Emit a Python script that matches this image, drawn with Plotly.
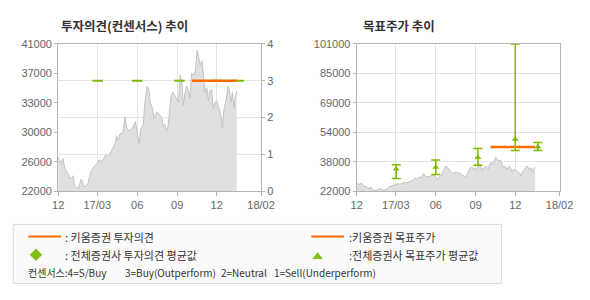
import plotly.graph_objects as go

# ---------------- data ----------------
price_dates = [
    "2016-12-01", "2016-12-06", "2016-12-12", "2016-12-17", "2016-12-25", "2016-12-28",
    "2017-01-04", "2017-01-08", "2017-01-16", "2017-01-23", "2017-01-31", "2017-02-07",
    "2017-02-14", "2017-02-22", "2017-03-01", "2017-03-05", "2017-03-12", "2017-03-20",
    "2017-03-27", "2017-04-03", "2017-04-11", "2017-04-14", "2017-04-18", "2017-04-22",
    "2017-04-29", "2017-05-04", "2017-05-08", "2017-05-13", "2017-05-21", "2017-05-28",
    "2017-06-02", "2017-06-05", "2017-06-09", "2017-06-15", "2017-06-18", "2017-06-24",
    "2017-06-28", "2017-07-01", "2017-07-05", "2017-07-10", "2017-07-16", "2017-07-23",
    "2017-07-27", "2017-07-31", "2017-08-04", "2017-08-07", "2017-08-11", "2017-08-15",
    "2017-08-18", "2017-08-22", "2017-08-28", "2017-09-01", "2017-09-04", "2017-09-08",
    "2017-09-12", "2017-09-15", "2017-09-19", "2017-09-23", "2017-09-27", "2017-09-30",
    "2017-10-04", "2017-10-09", "2017-10-13", "2017-10-17", "2017-10-21", "2017-10-24",
    "2017-10-28", "2017-11-01", "2017-11-04", "2017-11-08", "2017-11-12", "2017-11-15",
    "2017-11-19", "2017-11-23", "2017-11-27", "2017-12-01", "2017-12-04", "2017-12-08",
    "2017-12-12", "2017-12-14", "2017-12-18", "2017-12-23", "2017-12-27", "2017-12-30",
    "2018-01-03", "2018-01-06", "2018-01-10", "2018-01-12", "2018-01-16",
]
price_values = [
    26460, 25630, 26250, 24800, 24190, 23570,
    24000, 22740, 22330, 23570, 22540, 22950,
    24400, 25220, 25630, 26050, 25840, 26670,
    26460, 27290, 28110, 29150, 28530, 29350,
    29560, 31620, 30180, 29770, 30180, 31000,
    29350, 28110, 29970, 30590, 33070, 35550,
    34930, 33480, 32860, 31420, 32240, 31830,
    31620, 30390, 30590, 29770, 30390, 32660,
    34310, 34800, 34100, 33690, 33480, 36990,
    35960, 33070, 34720, 35550, 34930, 33900,
    37200, 36990, 37610, 40200, 39060, 38230,
    38850, 36370, 34720, 35340, 33690, 34930,
    35130, 32660, 33480, 33690, 33070, 32240,
    31420, 30180, 32660, 33900, 35550, 35130,
    33480, 34720, 32660, 33900, 34930,
]

# Kiwoom opinion (right axis, 3 = Buy)
kiwoom_op_dates = ["2017-10-05", "2018-01-16"]
kiwoom_op_values = [3, 3]

# Consensus opinion average
cons_op_dates = ["2017-03-02", "2017-06-01", "2017-09-06", "2017-12-01", "2018-01-21"]
cons_op_values = [3, 3, 3, 3, 3]

# Kiwoom target price
kiwoom_tp_dates = ["2017-10-05", "2018-01-16"]
kiwoom_tp_values = [45800, 45800]

# Consensus target price: average, high, low
cons_tp_dates = ["2017-03-02", "2017-06-01", "2017-09-06", "2017-12-01", "2018-01-22"]
cons_tp_avg = [33900, 34900, 40100, 49900, 45800]
cons_tp_high = [36200, 38800, 45000, 101000, 48100]
cons_tp_low = [28900, 31000, 36000, 43900, 43900]

x_tickvals = ["2016-12-01", "2017-03-01", "2017-06-01", "2017-09-01", "2017-12-01", "2018-03-13"]
x_ticktext = ["12", "17/03", "06", "09", "12", "18/02"]

left_price_ticks = [22000, 25800, 29600, 33400, 37200, 41000]
left_price_labels = ["22000", "26000", "30000", "33000", "37000", "41000"]
opinion_ticks = [0, 1, 2, 3, 4]

tp_ticks = [22000, 37800, 53600, 69400, 85200, 101000]
tp_labels = ["22000", "38000", "54000", "69000", "85000", "101000"]

# ---------------- styles ----------------
W, H = 590, 300
ORANGE = "#ff6c00"
GREEN = "#7dbb00"
AREA_FILL = "#e0e0e0"
AREA_LINE = "#c2c2c2"
GRID = "#e4e4e4"
AXLINE = "#b4b4b4"
TICKFONT = dict(family="Liberation Sans, Arial, sans-serif", size=11, color="#666666")
KFONT = "Noto Sans CJK KR, sans-serif"


def px(x):
    return x / W


def py(y):
    return 1 - y / H


fig = go.Figure()

# Left chart
fig.add_trace(go.Scatter(x=price_dates, y=price_values, mode="lines", fill="tozeroy",
                         fillcolor=AREA_FILL, line=dict(color=AREA_LINE, width=1),
                         xaxis="x", yaxis="y", showlegend=False, hoverinfo="skip"))
fig.add_trace(go.Scatter(x=cons_op_dates, y=cons_op_values, mode="markers",
                         marker=dict(symbol="line-ew", size=7.5, line=dict(color=GREEN, width=2)),
                         xaxis="x", yaxis="y2", showlegend=False))
fig.add_trace(go.Scatter(x=kiwoom_op_dates, y=kiwoom_op_values, mode="lines",
                         line=dict(color=ORANGE, width=2.5),
                         xaxis="x", yaxis="y2", showlegend=False))

# Right chart
fig.add_trace(go.Scatter(x=price_dates, y=price_values, mode="lines", fill="tozeroy",
                         fillcolor=AREA_FILL, line=dict(color=AREA_LINE, width=1),
                         xaxis="x2", yaxis="y3", showlegend=False, hoverinfo="skip"))
fig.add_trace(go.Scatter(x=kiwoom_tp_dates, y=kiwoom_tp_values, mode="lines",
                         line=dict(color=ORANGE, width=2.5),
                         xaxis="x2", yaxis="y3", showlegend=False))
fig.add_trace(go.Scatter(
    x=cons_tp_dates, y=cons_tp_avg, mode="markers",
    marker=dict(symbol="triangle-up", size=6, color=GREEN),
    error_y=dict(type="data", symmetric=False,
                 array=[h - a for h, a in zip(cons_tp_high, cons_tp_avg)],
                 arrayminus=[a - l for a, l in zip(cons_tp_avg, cons_tp_low)],
                 color=GREEN, thickness=1.5, width=4.5),
    xaxis="x2", yaxis="y3", showlegend=False))

xcommon = dict(type="date", range=["2016-12-01", "2018-03-13"], tickmode="array",
               tickvals=x_tickvals, ticktext=x_ticktext, showgrid=True, gridcolor=GRID,
               gridwidth=1, showline=True, linecolor=AXLINE, linewidth=1, mirror=True,
               ticks="outside", ticklen=4, tickcolor=AXLINE, tickfont=TICKFONT,
               zeroline=False, fixedrange=True)

fig.update_layout(
    width=W, height=H, margin=dict(l=0, r=0, t=0, b=0),
    paper_bgcolor="white", plot_bgcolor="white", showlegend=False,
    xaxis=dict(domain=[px(54), px(264)], anchor="y", **xcommon),
    yaxis=dict(domain=[py(193), py(39.5)], range=[22000, 41000], tickmode="array",
               tickvals=left_price_ticks, ticktext=left_price_labels, showgrid=False,
               showline=True, linecolor=AXLINE, linewidth=1, ticks="outside", ticklen=3,
               tickcolor=AXLINE, tickfont=TICKFONT, zeroline=False, anchor="x"),
    yaxis2=dict(overlaying="y", side="right", anchor="x", range=[0, 4], tickmode="array",
                tickvals=opinion_ticks, showgrid=True, gridcolor=GRID, showline=True,
                linecolor=AXLINE, linewidth=1, ticks="outside", ticklen=3, tickcolor=AXLINE,
                tickfont=TICKFONT, zeroline=False),
    xaxis2=dict(domain=[px(363), px(573)], anchor="y3", **xcommon),
    yaxis3=dict(domain=[py(193), py(39.5)], range=[22000, 101000], tickmode="array",
                tickvals=tp_ticks, ticktext=tp_labels, showgrid=True, gridcolor=GRID,
                showline=True, linecolor=AXLINE, linewidth=1, mirror=True, ticks="outside",
                ticklen=3, tickcolor=AXLINE, tickfont=TICKFONT, zeroline=False, anchor="x2"),
)

LEG = dict(family=KFONT, size=11, color="#333333")
LEG3 = dict(family=KFONT, size=10, color="#333333")
annotations = [
    dict(text="<b>투자의견(컨센서스) 추이</b>", x=px(55), y=py(20.5), xanchor="left",
         yanchor="middle", font=dict(family=KFONT, size=12.5, color="#333333")),
    dict(text="<b>목표주가 추이</b>", x=px(367), y=py(20.5), xanchor="left",
         yanchor="middle", font=dict(family=KFONT, size=12.5, color="#333333")),
    dict(text=": 키움증권 투자의견", x=px(59), y=py(240.5), xanchor="left", yanchor="middle", font=LEG),
    dict(text=":키움증권 목표주가", x=px(353), y=py(240.5), xanchor="left", yanchor="middle", font=LEG),
    dict(text=": 전체증권사 투자의견 평균값", x=px(59), y=py(259), xanchor="left", yanchor="middle", font=LEG),
    dict(text=":전체증권사 목표주가 평균값", x=px(353), y=py(259), xanchor="left", yanchor="middle", font=LEG),
    dict(text="컨센서스:4=S/Buy", x=px(21), y=py(277.5), xanchor="left", yanchor="middle", font=LEG3),
    dict(text="3=Buy(Outperform)", x=px(121.5), y=py(277.5), xanchor="left", yanchor="middle", font=LEG3),
    dict(text="2=Neutral", x=px(220), y=py(277.5), xanchor="left", yanchor="middle", font=LEG3),
    dict(text="1=Sell(Underperform)", x=px(275), y=py(277.5), xanchor="left", yanchor="middle", font=LEG3),
]
for a in annotations:
    a.update(xref="paper", yref="paper", showarrow=False)
fig.update_layout(annotations=annotations)

shapes = [
    # legend box
    dict(type="rect", x0=px(7.5), x1=px(513), y0=py(289), y1=py(227.5),
         line=dict(color="#dcdcdc", width=1), fillcolor="#fafafa", layer="below"),
    # orange legend lines
    dict(type="line", x0=px(23), x1=px(57), y0=py(240), y1=py(240),
         line=dict(color=ORANGE, width=2)),
    dict(type="line", x0=px(316), x1=px(350), y0=py(240), y1=py(240),
         line=dict(color=ORANGE, width=2)),
    # green diamond
    dict(type="path",
         path=f"M {px(24.5)} {py(259)} L {px(31)} {py(252.5)} L {px(37.5)} {py(259)} L {px(31)} {py(265.5)} Z",
         fillcolor="#80c21a", line=dict(width=0)),
    # green triangle
    dict(type="path",
         path=f"M {px(317)} {py(263.5)} L {px(322.5)} {py(256.5)} L {px(328)} {py(263.5)} Z",
         fillcolor="#80c21a", line=dict(width=0)),
]
for s in shapes:
    s.update(xref="paper", yref="paper")
fig.update_layout(shapes=shapes)

fig.write_html("out.html")
